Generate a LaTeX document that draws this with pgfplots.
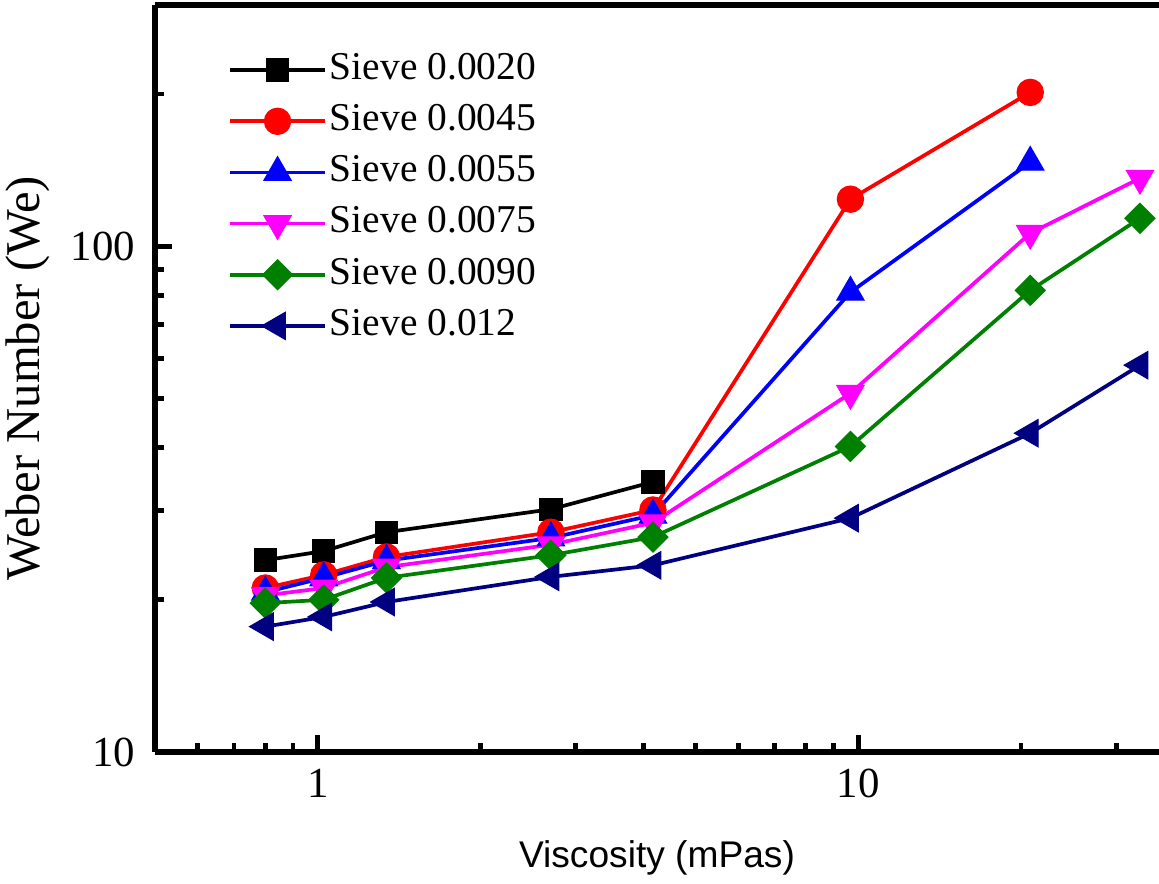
\documentclass[border=0pt]{standalone}
\usepackage{fontspec}
\setmainfont{Liberation Serif}
\newfontfamily\sansf{Liberation Sans}
\usepackage{pgfplots}
\pgfplotsset{compat=1.18}
\definecolor{cRed}{RGB}{255,0,0}
\definecolor{cBlue}{RGB}{0,0,255}
\definecolor{cMag}{RGB}{255,0,255}
\definecolor{cGreen}{RGB}{0,128,0}
\definecolor{cNavy}{RGB}{0,0,128}

\begin{document}
\begin{tikzpicture}
\begin{axis}[
    name=ax,
    xmode=log, ymode=log,
    scale only axis,
    width=351.4pt, height=261.45pt,
    xmin=0.5, xmax=36,
    ymin=10, ymax=300,
    axis x line*=box,
    axis y line*=left,
    axis line style={-, line width=1.9pt, black},
    xtick={1,10}, xticklabels={1,10},
    ytick={10,100}, yticklabels={10,100},
    minor xtick={0.6,0.7,0.8,0.9,2,3,4,5,6,7,8,9,20,30},
    minor ytick={20,30,40,50,60,70,80,90,200},
    xtick pos=left, ytick pos=left,
    tick align=inside,
    major tick length=6pt,
    minor tick length=3pt,
    every tick/.style={black, line width=1.7pt},
    tick label style={font=\fontsize{15}{17}\selectfont},
    xticklabel style={yshift=-2.5pt},
    yticklabel style={xshift=-3.5pt},
    /pgf/number format/assume math mode=true,
    xlabel={\sansf Viscosity (mPas)},
    xlabel style={font=\fontsize{13}{15}\selectfont,
      at={(axis description cs:0.5,-0.142)}, anchor=center},
    ylabel={Weber Number (We)},
    ylabel style={font=\fontsize{17}{19}\selectfont,
      at={(axis description cs:-0.127,0.5)}, anchor=center},
    legend style={
      at={(axis description cs:0.0727,0.942)}, anchor=north west,
      draw=none, fill=none, inner sep=0pt,
      font=\fontsize{13.8}{16}\selectfont,
      row sep=3pt,
      nodes={text height=9.5pt, text depth=3pt, inner sep=1.2pt}
    },
    legend cell align=left,
    legend image code/.code={
      \draw[mark repeat=2,mark phase=2,#1]
        plot coordinates {(0pt,0pt) (16.5pt,0pt) (33pt,0pt)};
    },
    every axis plot/.append style={line width=1.3pt},
]

\addplot[black, mark=square*, mark size=3.9pt, mark options={line width=0.4pt}]
  coordinates {(0.80,23.95) (1.026,24.96) (1.34,27.2) (2.70,30.2) (4.17,34.2)};
\addlegendentry{Sieve 0.0020}

\addplot[cRed, mark=*, mark size=4.6pt, mark options={line width=0.4pt}]
  coordinates {(0.80,21.1) (1.026,22.4) (1.34,24.3) (2.70,27.2) (4.17,30.1)
               (9.67,123.9) (20.8,201.5)};
\addlegendentry{Sieve 0.0045}

\addplot[cBlue, mark=triangle*, mark size=5.5pt, mark options={line width=0.4pt}]
  coordinates {(0.80,20.7) (1.026,22.1) (1.34,23.9) (2.70,26.5) (4.17,29.4)
               (9.67,81.1) (20.8,146.6)};
\addlegendentry{Sieve 0.0055}

\addplot[cMag, mark=triangle*, mark size=5.5pt, mark options={rotate=180, line width=0.4pt}]
  coordinates {(0.80,20.4) (1.026,21.1) (1.34,23.2) (2.70,25.7) (4.17,28.4)
               (9.67,51.2) (20.8,106.1) (33.2,136.3)};
\addlegendentry{Sieve 0.0075}

\addplot[cGreen, mark=square*, mark size=3.7pt, mark options={rotate=45, line width=0.4pt}]
  coordinates {(0.80,19.7) (1.026,20.0) (1.34,22.1) (2.70,24.5) (4.17,26.6)
               (9.67,40.2) (20.8,81.8) (33.2,113.6)};
\addlegendentry{Sieve 0.0090}

\addplot[cNavy, mark=triangle*, mark size=5.5pt, mark options={rotate=90, line width=0.4pt}]
  coordinates {(0.80,17.7) (1.026,18.5) (1.34,19.8) (2.70,22.2) (4.17,23.4)
               (9.67,29.0) (20.8,42.7) (33.2,58.2)};
\addlegendentry{Sieve 0.012}

\end{axis}
\pgfresetboundingbox
\path[use as bounding box] ([xshift=-54.25pt,yshift=-46.2pt]ax.south west)
  rectangle ([yshift=1.75pt]ax.north east);
\end{tikzpicture}
\end{document}
